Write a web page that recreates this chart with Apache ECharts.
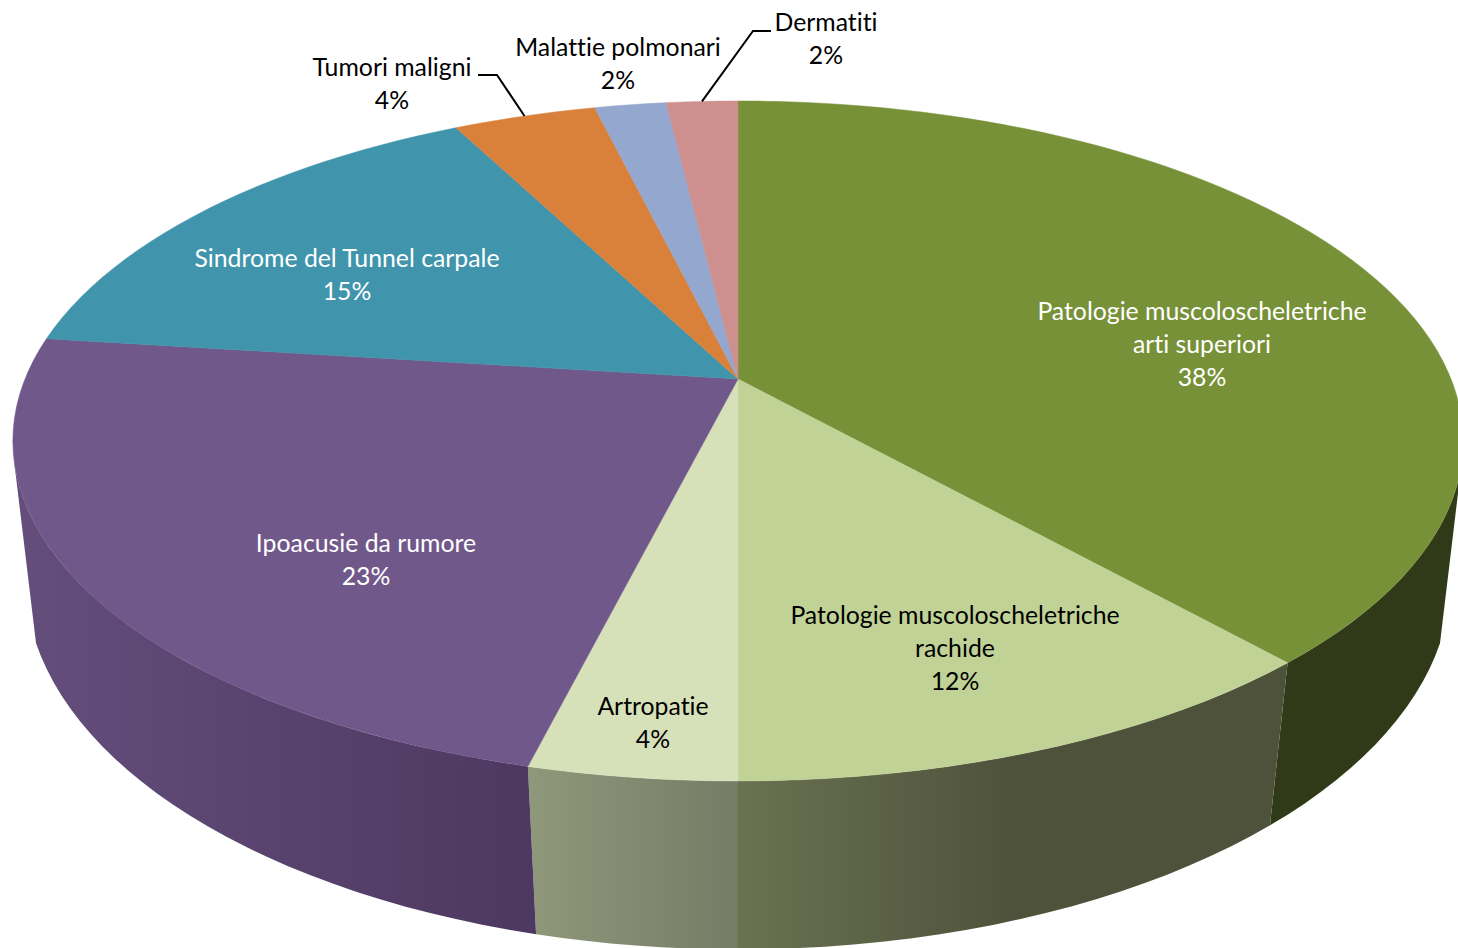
<!DOCTYPE html>
<html>
<head>
<meta charset="utf-8">
<title>Malattie professionali</title>
<style>
    html, body { margin: 0; padding: 0; background: #fff; }
    #chart { width: 1458px; height: 948px; }
    #chart text { font-variant-ligatures: none; }
</style>
<script src="https://cdn.jsdelivr.net/npm/echarts@6/dist/echarts.min.js"></script>
</head>
<body>
<div id="chart"></div>
<script>
// data: shares are a bit finer than the rounded labels
const categories = [
    "Patologie muscoloscheletriche\narti superiori",
    "Patologie muscoloscheletriche\nrachide",
    "Artropatie",
    "Ipoacusie da rumore",
    "Sindrome del Tunnel carpale",
    "Tumori maligni",
    "Malattie polmonari",
    "Dermatiti",
];
const shares = [38.4, 11.6, 3.9, 23.1, 15.4, 3.8, 1.9, 1.9];

// styles
const topColors = ["#779139", "#c1d296", "#d6e1ba", "#71588a", "#4095ad", "#d9813b", "#93a7cf", "#ce8f8f"];
// wall gradient, left to right, and where across the wall it has finished fading
const wallColors = [
    ["#303a18", "#303a18"],
    ["#6a7252", "#4e523b"],
    ["#8f987a", "#757c66"],
    ["#644e7c", "#4c3860"],
    null, null, null, null,
];
const wallFadeEnd = [1, 0.5, 1, 1];
const labelColors = ["#fff", "#000", "#000", "#fff", "#fff", "#000", "#000", "#000"];
const labelCenters = [[1202, 343], [955, 647], [653, 722], [366, 559], [347, 274], [392, 83], [618, 63], [826, 38]];
const leaderKnees = { 5: [[478, 75], [497, 75]], 7: [[771, 31], [753, 31]] };

// perspective of the disc: top rim and bottom rim, in page pixels
const topRim = { cx: 738, cy: 379, a: 713, b: 328.7, k: 0.1823 };
const bottomRim = { cx: 738, cy: 519, a: 704, b: 362, k: 0.159 };
// where the side wall stops being visible, per rim (degrees clockwise from 12 o'clock)
const wallRange = { top: [104, 256], bottom: [109, 251] };

function rimPoint(rim, deg) {
    const t = deg * Math.PI / 180;
    const u = Math.sin(t), v = Math.cos(t);
    const w = 1 + rim.k * v;
    return [rim.cx + rim.a * u / w, rim.cy - rim.b * v / w];
}

function arc(rim, from, to) {
    const pts = [];
    const n = Math.max(2, Math.ceil(Math.abs(to - from) / 2));
    for (let i = 0; i <= n; i++) pts.push(rimPoint(rim, from + (to - from) * i / n));
    return pts;
}

const total = shares.reduce((s, v) => s + v, 0);
let running = 0;
const sliceData = shares.map((v, i) => {
    const start = running / total * 360;
    running += v;
    return [start, running / total * 360, i];
});

function toPage(api, pts) {
    return pts.map((p) => api.coord(p));
}

function renderWall(params, api) {
    const i = api.value(2);
    if (!wallColors[i]) return null;
    const a = api.value(0), b = api.value(1);
    const topPts = arc(topRim, Math.max(a, wallRange.top[0]), Math.min(b, wallRange.top[1]));
    const bottomPts = arc(bottomRim, Math.min(b, wallRange.bottom[1]), Math.max(a, wallRange.bottom[0]));
    return {
        type: "polygon",
        shape: { points: toPage(api, topPts.concat(bottomPts)) },
        style: {
            fill: {
                type: "linear", x: 0, y: 0, x2: 1, y2: 0,
                colorStops: [
                    { offset: 0, color: wallColors[i][0] },
                    { offset: wallFadeEnd[i], color: wallColors[i][1] },
                    { offset: 1, color: wallColors[i][1] },
                ],
            },
        },
    };
}

function renderTop(params, api) {
    const i = api.value(2);
    const pts = [[topRim.cx, topRim.cy]].concat(arc(topRim, api.value(0), api.value(1)));
    return {
        type: "polygon",
        shape: { points: toPage(api, pts) },
        style: { fill: topColors[i], stroke: topColors[i], lineWidth: 0.5 },
    };
}

function renderLabel(params, api) {
    const i = api.value(2);
    const children = [];
    const c = api.coord(labelCenters[i]);
    children.push({
        type: "text",
        style: {
            text: categories[i] + "\n" + Math.round(shares[i]) + "%",
            x: c[0], y: c[1],
            align: "center", verticalAlign: "middle",
            fontFamily: "Lato", fontSize: 24.8, lineHeight: 33,
            fill: labelColors[i],
        },
    });
    if (leaderKnees[i]) {
        const end = rimPoint(topRim, (api.value(0) + api.value(1)) / 2);
        children.push({
            type: "polyline",
            shape: { points: toPage(api, leaderKnees[i].concat([end])) },
            style: { fill: "none", stroke: "#000", lineWidth: 2 },
        });
    }
    return { type: "group", children };
}

const chart = echarts.init(document.getElementById("chart"), null, { renderer: "svg" });
chart.setOption({
    animation: false,
    backgroundColor: "#fff",
    grid: { left: 0, right: 0, top: 0, bottom: 0 },
    xAxis: { type: "value", min: 0, max: 1458, show: false },
    yAxis: { type: "value", min: 0, max: 948, inverse: true, show: false },
    series: [
        { type: "custom", renderItem: renderWall, data: sliceData, z: 1, silent: true },
        { type: "custom", renderItem: renderTop, data: sliceData, z: 2, silent: true },
        { type: "custom", renderItem: renderLabel, data: sliceData, z: 3, silent: true },
    ],
});
</script>
</body>
</html>
